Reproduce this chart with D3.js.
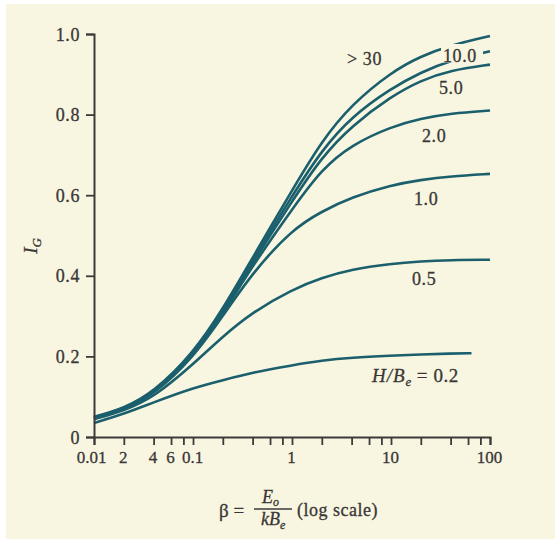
<!DOCTYPE html>
<html>
<head>
<meta charset="utf-8">
<script src="https://cdn.jsdelivr.net/npm/d3@7"></script>
<style>
  body { margin: 0; background: #ffffff; }
  svg text { font-family: "Liberation Serif", "DejaVu Serif", serif; fill: #3a3636; stroke: #3a3636; stroke-width: 0.3px; }
</style>
</head>
<body>
<div class="chart"></div>
<script>
// values
const beta = [0.01, 0.02, 0.04, 0.1, 0.2, 0.4, 1, 2, 4, 10, 20, 40, 100];
const betaLow = [0.01, 0.02, 0.04, 0.1, 0.2, 0.4, 1, 2, 4, 10, 20, 40, 65];

const igOver30 = [0.050, 0.071, 0.111, 0.207, 0.317, 0.445, 0.612, 0.735, 0.825, 0.905, 0.945, 0.972, 0.995];
const ig10 = [0.049, 0.070, 0.109, 0.204, 0.313, 0.438, 0.598, 0.712, 0.795, 0.865, 0.905, 0.935, 0.957];
const ig5 = [0.048, 0.069, 0.107, 0.201, 0.309, 0.432, 0.585, 0.695, 0.772, 0.845, 0.885, 0.910, 0.924];
const ig2 = [0.047, 0.069, 0.106, 0.199, 0.305, 0.425, 0.565, 0.665, 0.725, 0.770, 0.790, 0.803, 0.810];
const ig1 = [0.046, 0.068, 0.104, 0.196, 0.300, 0.408, 0.515, 0.560, 0.595, 0.625, 0.638, 0.647, 0.653];
const ig05 = [0.044, 0.065, 0.098, 0.180, 0.250, 0.310, 0.366, 0.395, 0.416, 0.430, 0.436, 0.439, 0.440];
const ig02 = [0.035, 0.057, 0.086, 0.122, 0.141, 0.160, 0.178, 0.190, 0.197, 0.202, 0.205, 0.207, 0.208];

const xTickValues = [0.01, 0.02, 0.04, 0.06, 0.08, 0.1, 0.2, 0.4, 0.6, 0.8, 1, 2, 4, 6, 8, 10, 20, 40, 60, 80, 100];
const xLabelValues = [0.01, 0.02, 0.04, 0.06, 0.1, 1, 10, 100];
const xLabelTexts = ["0.01", "2", "4", "6", "0.1", "1", "10", "100"];
const yTickValues = [0, 0.2, 0.4, 0.6, 0.8, 1.0];
const yTickTexts = ["0", "0.2", "0.4", "0.6", "0.8", "1.0"];

const W = 555, H = 539;
const teal = "#1b5f6d", ink = "#3d3a3a", cream = "#f8f6e1";

const svg = d3.select(".chart").append("svg")
    .attr("width", W)
    .attr("height", H);

svg.append("rect")
    .attr("x", 6).attr("y", 4)
    .attr("width", W - 6).attr("height", H - 4)
    .attr("fill", cream);

const x = d3.scaleLog().domain([0.01, 100]).range([94, 490]);
const y = d3.scaleLinear().domain([0, 1]).range([437, 34]);

//curves
const line = d3.line()
    .x(d => x(d[0]))
    .y(d => y(d[1]))
    .curve(d3.curveBasis);

const series = [
    [beta, igOver30],
    [beta, ig10],
    [beta, ig5],
    [beta, ig2],
    [beta, ig1],
    [beta, ig05],
    [betaLow, ig02]
];

const gCurves = svg.append("g");
series.forEach(s => {
    gCurves.append("path")
        .attr("d", line(s[0].map((b, i) => [b, s[1][i]])))
        .attr("fill", "none")
        .attr("stroke", teal)
        .attr("stroke-width", 2.6);
});

//axes
const yAxis = svg.append("g")
    .attr("transform", `translate(${x(0.01)},0)`)
    .call(d3.axisLeft(y).tickValues(yTickValues).tickSize(8).tickPadding(6)
        .tickFormat((d, i) => yTickTexts[i]));

const xAxis = svg.append("g")
    .attr("transform", `translate(0,${y(0)})`)
    .call(d3.axisBottom(x).tickValues(xTickValues).tickSize(8).tickPadding(6)
        .tickFormat(d => {
            const k = xLabelValues.findIndex(v => Math.abs(v - d) < 1e-9);
            return k < 0 ? "" : xLabelTexts[k];
        }));

[xAxis, yAxis].forEach(a => {
    a.select(".domain").attr("stroke", ink).attr("stroke-width", 2);
    a.selectAll(".tick line").attr("stroke", ink).attr("stroke-width", 1.8);
    a.selectAll(".tick text")
        .attr("fill", ink)
        .attr("stroke", ink)
        .style("font-family", "Liberation Serif, serif");
});
yAxis.selectAll(".tick text").attr("dy", "0.34em").style("font-size", "18px").style("letter-spacing", "0.6px");
xAxis.selectAll(".tick text").style("font-size", "17px").attr("dx", d => d === 0.01 ? -3 : -1);

//curve labels
svg.append("rect")
    .attr("x", 441).attr("y", 44)
    .attr("width", 42).attr("height", 18.5)
    .attr("fill", cream);

const curveLabels = [
    { text: "> 30", x: 347, y: 65 },
    { text: "10.0", x: 443, y: 62 },
    { text: "5.0", x: 439, y: 94 },
    { text: "2.0", x: 422, y: 142 },
    { text: "1.0", x: 414, y: 205 },
    { text: "0.5", x: 412, y: 285 }
];
curveLabels.forEach(l => {
    svg.append("text")
        .attr("x", l.x).attr("y", l.y)
        .style("font-size", "18px")
        .style("letter-spacing", "0.6px")
        .text(l.text);
});

const hb = svg.append("text")
    .attr("x", 372).attr("y", 382)
    .style("font-size", "19px");
hb.append("tspan").style("font-style", "italic").style("letter-spacing", "1px").text("H/B");
hb.append("tspan").style("font-style", "italic").style("font-size", "13px").attr("dy", 4).text("e");
hb.append("tspan").attr("dy", -4).style("letter-spacing", "0.6px").text("\u00a0= 0.2");

//axis titles
const yl = svg.append("text")
    .attr("transform", "translate(37,246) rotate(-90)")
    .attr("text-anchor", "middle")
    .style("font-size", "19px");
yl.append("tspan").style("font-style", "italic").text("I");
yl.append("tspan").style("font-style", "italic").style("font-size", "13px").attr("dy", 4).text("G");

svg.append("text")
    .attr("x", 219).attr("y", 517)
    .style("font-size", "19px")
    .text("β =");

const num = svg.append("text")
    .attr("x", 262).attr("y", 503)
    .style("font-size", "18px");
num.append("tspan").style("font-style", "italic").text("E");
num.append("tspan").style("font-style", "italic").style("font-size", "12px").attr("dy", 3).text("o");

svg.append("line")
    .attr("x1", 254).attr("x2", 292)
    .attr("y1", 509).attr("y2", 509)
    .attr("stroke", ink).attr("stroke-width", 1.5);

const den = svg.append("text")
    .attr("x", 261).attr("y", 525)
    .style("font-size", "18px");
den.append("tspan").style("font-style", "italic").text("kB");
den.append("tspan").style("font-style", "italic").style("font-size", "12px").attr("dy", 4).text("e");

svg.append("text")
    .attr("x", 297).attr("y", 516)
    .style("font-size", "18px")
    .style("letter-spacing", "0.5px")
    .text("(log scale)");
</script>
</body>
</html>
